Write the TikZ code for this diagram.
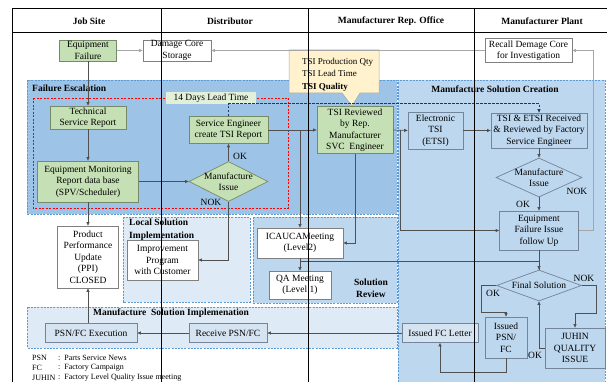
\documentclass[tikz,border=0pt]{standalone}
\usepackage{fontspec}
\setmainfont{Liberation Serif}
\usetikzlibrary{arrows.meta,shapes.geometric}
\definecolor{regA}{HTML}{9DC3E6}
\definecolor{regB}{HTML}{BDD7EE}
\definecolor{regC}{HTML}{DEEBF7}
\definecolor{regline}{HTML}{5B9BD5}
\definecolor{boxgreen}{HTML}{C5E0B4}
\definecolor{greenline}{HTML}{768A6A}
\definecolor{boxline}{HTML}{808080}
\definecolor{blueline}{HTML}{72859A}
\definecolor{arrcol}{HTML}{505050}
\definecolor{arrlight}{HTML}{A6A6A6}
\definecolor{navy}{HTML}{203864}
\definecolor{callfill}{HTML}{FFF2CC}
\definecolor{leadfill}{HTML}{E2F0D9}
\definecolor{psnfill}{HTML}{D6E4F2}
\newcommand{\myfs}{\fontsize{9.5}{11.5}\selectfont}
\newcommand{\mysmallfs}{\fontsize{8}{10}\selectfont}
\begin{document}
\begin{tikzpicture}[x=1pt,y=-1pt,
  box/.style={draw=boxline, line width=0.7pt, inner sep=0pt, align=center, font=\myfs},
  gbox/.style={box, fill=boxgreen, draw=greenline},
  wbox/.style={box, fill=white},
  bbox/.style={box, fill=regB, draw=blueline},
  pbox/.style={box, fill=psnfill, draw=blueline},
  dia/.style={diamond, inner sep=0pt, line width=0.7pt},
  arr/.style={draw=arrcol, line width=0.7pt, -{Triangle[length=3.5pt,width=3pt]}},
  arrl/.style={draw=arrlight, line width=0.8pt, -{Triangle[length=3.5pt,width=3pt]}},
  plain/.style={draw=arrcol, line width=0.7pt},
  dline/.style={draw=navy, line width=1pt, dash pattern=on 2.5pt off 1.5pt, -{Triangle[length=3.5pt,width=3pt]}},
  reg/.style={draw=regline, line width=0.8pt, dash pattern=on 2pt off 1.2pt},
  lbl/.style={font=\myfs, inner sep=0pt},
  blbl/.style={font=\myfs\bfseries, inner sep=0pt, align=left},
  lane/.style={draw=black, line width=0.9pt}]
\useasboundingbox (0,0) rectangle (607,382);

% regions
\fill[regB] (398,80) rectangle (605,382);
\draw[reg] (398,382) -- (398,80) -- (605,80) -- (605,382);
\filldraw[fill=regA, reg] (27,80) rectangle (397,214);
\filldraw[fill=regC, reg] (123,217) rectangle (250,302);
\filldraw[fill=regB, reg] (253,217) rectangle (397,303);
\filldraw[fill=regC, reg] (27,307) rectangle (397,348);
\draw[red, line width=0.9pt, dash pattern=on 2pt off 1.5pt] (33,98) rectangle (288,208);

% region labels
\node[blbl, anchor=west] (lfe) at (32,88) {Failure Escalation};
\node[blbl, anchor=center] (lmsc) at (495,89) {Manufacture Solution Creation};
\node[blbl, anchor=west, font=\fontsize{9.5}{13}\selectfont\bfseries] (llsi) at (129,229.5) {Local Solution\\Implementation};
\node[blbl, align=center, font=\fontsize{9.5}{12}\selectfont\bfseries] (lsr) at (371,288.5) {Solution\\Review};
\node[blbl, anchor=west] (lmsi) at (93,313) {Manufacture\ \ Solution Implemenation};

% headers
\node[blbl] (h1) at (89,21) {Job Site};
\node[blbl] (h2) at (230,21) {Distributor};
\node[blbl] (h3) at (391,21) {Manufacturer Rep. Office};
\node[blbl] (h4) at (542,21) {Manufacturer Plant};

% callout
\filldraw[fill=callfill, draw=boxline!70, line width=0.5pt]
  (289,50) -- (379,50) -- (379,93) -- (360,93) -- (352,106) -- (342,93) -- (289,93) -- cycle;
\node[align=left, anchor=west, inner sep=0pt, font=\fontsize{9}{12.5}\selectfont] (call) at (302,74.5)
  {TSI Production Qty\\TSI Lead Time\\\textbf{TSI Quality}};

% nodes
\node[gbox, minimum width=57, minimum height=21] (ef) at (88,50.5) {Equipment\\Failure};
\node[wbox, minimum width=68, minimum height=21] (dcs) at (177,50.5) {Damage Core\\Storage};
\node[wbox, minimum width=87, minimum height=24] (rdc) at (528.5,50.5) {Recall Demage Core\\for Investigation};
\node[lbl, fill=leadfill, minimum width=90, minimum height=12] (lead) at (211,98) {14 Days Lead Time};
\node[gbox, minimum width=76, minimum height=23] (tsr) at (88,117.5) {Technical\\Service Report};
\node[gbox, minimum width=101, minimum height=41] (emr) at (88,181.5) {Equipment Monitoring\\Report data base\\(SPV/Scheduler)};
\node[gbox, minimum width=79, minimum height=27] (se) at (228.5,130) {Service Engineer\\create TSI Report};
\node[dia, fill=boxgreen, draw=greenline, minimum width=79, minimum height=40] (mi1) at (228.5,181.5) {};
\node[lbl, align=center] (mi1t) at (mi1) {Manufacture\\Issue};
\node[gbox, minimum width=76, minimum height=47] (tsirev) at (355,130) {TSI Reviewed\\by Rep.\\Manufacturer\\SVC\ \ Engineer};
\node[bbox, minimum width=55, minimum height=37] (etsi) at (435.5,130.5) {Electronic\\TSI\\(ETSI)};
\node[bbox, minimum width=96, minimum height=35] (tsie) at (539,130.5) {TSI \& ETSI Received\\\& Reviewed by Factory\\Service Engineer};
\node[dia, fill=regB, draw=blueline, minimum width=86, minimum height=39] (mi2) at (539,177.5) {};
\node[lbl, align=center] (mi2t) at (mi2) {Manufacture\\Issue};
\node[bbox, minimum width=79, minimum height=39] (efifu) at (539,230.5) {Equipment\\Failure Issue\\follow Up};
\node[dia, fill=regB, draw=blueline, minimum width=85, minimum height=31] (final) at (539,285.5) {};
\node[lbl] (finalt) at (final) {Final Solution};
\node[bbox, minimum width=42, minimum height=41] (ipsn) at (506,337.5) {Issued\\PSN/\\FC};
\node[bbox, minimum width=60, minimum height=40] (juhin) at (575,348) {JUHIN\\QUALITY\\ISSUE};
\node[wbox, minimum width=61, minimum height=62] (ppu) at (88,257) {Product\\Performance\\Update\\(PPI)\\CLOSED};
\node[wbox, minimum width=71, minimum height=40] (imp) at (162.5,260) {Improvement\\Program\\with Customer};
\node[wbox, minimum width=86, minimum height=30] (icauca) at (300,243) {ICAUCAMeeting\\(Level2)};
\node[wbox, minimum width=62, minimum height=28] (qa) at (300,285) {QA Meeting\\(Level 1)};
\node[pbox, minimum width=92, minimum height=19] (psnx) at (91,333) {PSN/FC Execution};
\node[pbox, minimum width=78, minimum height=19] (rpsn) at (228,333) {Receive PSN/FC};
\node[pbox, minimum width=76, minimum height=19] (ifc) at (440,333) {Issued FC Letter};

% connectors
\draw[arrl] (ef.east) -- (dcs.west);
\draw[arrl] (rdc.west) -- (rdc.west -| dcs.east);
\draw[arrl] (efifu.east) -- ++(15,0) |- (rdc.east);
\draw[arr] (ef.south) -- (tsr.north);
\draw[arr] (tsr.south) -- (emr.north);
\draw[arr] (emr.south) -- (ppu.north);
\draw[arr] (psnx.north -| ppu.south) -- (ppu.south);
\draw[arr] (emr.east) -- (mi1.west);
\draw[arr] (mi1.north) -- (se.south);
\draw[arr] (mi1.south) |- (imp.east);
\draw[arr] (se.east) -- (tsirev.west);
\draw[arr] (se.east -| icauca.north) -- (icauca.north);
\draw[arr] (tsirev.south) |- (icauca.east);
\draw[arr] (tsirev.east) -- (etsi.west);
\coordinate (j2) at (400,130);
\draw[arr] (j2) |- (efifu.west);
\draw[arr] (etsi.east) -- (tsie.west);
\draw[dline] (se.north) -- ++(0,-12.5) -| (tsie.north);
\draw[arr] (tsie.south) -- (mi2.north);
\draw[arr] (mi2.south) -- (efifu.north);
\draw[arr] (efifu.south) -- (final.north);
\draw[plain] (icauca.south) -- ++(0,3) -| (final.north);
\draw[arr] (icauca.south) -- (qa.north);
\draw[arr] (final.west) -- ++(-15,0) -- ++(0,26.5) -| (ipsn.north);
\draw[arr] (final.east) -- ++(14,0) -- ++(0,27.5) -| (juhin.north);
\draw[arr] (juhin.west) -| (final.south);
\draw[arr] (ipsn.south) -- ++(0,14) -| (ifc.south);
\draw[arr] (ifc.west) -- (rpsn.east);
\draw[arr] (rpsn.west) -- (psnx.east);

% OK / NOK labels
\node[lbl] (ok1) at (240,156) {OK};
\node[lbl] (nok1) at (211,202) {NOK};
\node[lbl] (ok2) at (523,204) {OK};
\node[lbl] (nok2) at (577,191) {NOK};
\node[lbl] (ok3) at (493,293) {OK};
\node[lbl] (nok3) at (584,278) {NOK};
\node[lbl] (ok4) at (535,355) {OK};

% legend
\node[inner sep=0pt, anchor=west, font=\mysmallfs] (g1) at (32,358) {PSN};
\node[inner sep=0pt, anchor=west, font=\mysmallfs] (g2) at (32,368) {FC};
\node[inner sep=0pt, anchor=west, font=\mysmallfs] (g3) at (32,378) {JUHIN};
\node[inner sep=0pt, anchor=west, font=\mysmallfs] (g1t) at (58,358) {:\ \ Parts Service News};
\node[inner sep=0pt, anchor=west, font=\mysmallfs] (g2t) at (58,368) {:\ \ Factory Campaign};
\node[inner sep=0pt, anchor=west, font=\mysmallfs] (g3t) at (58,378) {:\ \ Factory Level Quality Issue meeting};

% swimlane frame
\draw[lane] (12,8) -- (607,8);
\draw[lane] (12,32) -- (607,32);
\draw[lane] (12,8) -- (12,382);
\draw[lane] (161,8) -- (161,382);
\draw[lane] (308,8) -- (308,382);
\draw[lane] (474,8) -- (474,382);
\end{tikzpicture}
\end{document}
